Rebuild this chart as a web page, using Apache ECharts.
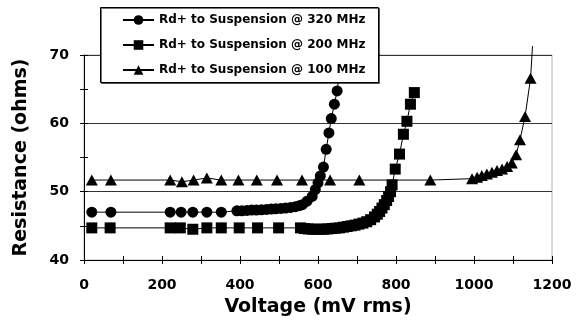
<!DOCTYPE html>
<html>
<head>
<meta charset="utf-8">
<script src="https://cdn.jsdelivr.net/npm/echarts@6/dist/echarts.min.js"></script>
<style>
html,body{margin:0;padding:0;background:#fff;}
#chart{width:582px;height:333px;}
</style>
</head>
<body>
<div id="chart"></div>
<script>
// ---- data ----
var seriesNames = ['Rd+ to Suspension @ 320 MHz', 'Rd+ to Suspension @ 200 MHz', 'Rd+ to Suspension @ 100 MHz'];

var mhz320V = [20,69,221,249,279,315,352,392,405,418,430,442,455,468,480,492,505,517,530,542,552,560,572,585,593,600,606,614,621,628,634,642,649,655];
var mhz320R = [47.0,47.0,47.0,47.0,47.0,47.0,47.0,47.2,47.2,47.25,47.3,47.3,47.35,47.4,47.45,47.5,47.55,47.6,47.7,47.8,47.95,48.1,48.6,49.3,50.3,51.3,52.3,53.6,56.2,58.6,60.7,62.8,64.75,67.5];

var mhz200V = [20,67,221,247,279,315,352,398,445,499,555,565,575,585,595,605,615,625,635,645,655,665,675,685,695,705,715,725,735,745,752,758,764,770,776,781,786,790,798,809,819,828,837,847];
var mhz200R = [44.7,44.7,44.7,44.7,44.5,44.7,44.7,44.7,44.7,44.7,44.7,44.6,44.55,44.5,44.5,44.5,44.5,44.55,44.6,44.65,44.7,44.8,44.9,45.0,45.1,45.25,45.4,45.6,45.9,46.3,46.7,47.1,47.6,48.1,48.7,49.3,50.0,51.0,53.3,55.5,58.4,60.3,62.8,64.5];

var mhz100V = [20,69,221,251,281,315,352,396,443,495,559,631,706,888,995,1008,1020,1033,1046,1059,1072,1085,1097,1108,1118,1131,1145,1150];
var mhz100R = [51.7,51.7,51.7,51.45,51.7,52.0,51.7,51.7,51.7,51.7,51.7,51.7,51.7,51.7,51.9,52.1,52.35,52.6,52.85,53.1,53.3,53.7,54.2,55.4,57.6,61.0,66.6,71.3];

var xTicks = [0,200,400,600,800,1000,1200];
var yTicks = [40,50,60,70];

function pairs(xs, ys){ return xs.map(function(x,i){ return [x, ys[i]]; }); }

var FONT = '"DejaVu Sans", "Liberation Sans", Arial, sans-serif';
var chart = echarts.init(document.getElementById('chart'), null, {renderer:'canvas'});

var d100 = pairs(mhz100V, mhz100R).map(function(p, i, arr){
  // the last reading lies above the plot top: only its line segment shows
  return i === arr.length - 1 ? {value:p, symbolSize:0} : p;
});

function lineSeries(name, data, symbol, size, extra){
  var s = {
    name: name, type: 'line', data: data, z: 2,
    symbol: symbol, symbolSize: size,
    showAllSymbol: true,
    lineStyle: {color:'#000', width:1},
    itemStyle: {color:'#000'},
    emphasis: {disabled:true},
    animation: false,
    xAxisIndex: 0, yAxisIndex: 0
  };
  if (extra) for (var k in extra) s[k] = extra[k];
  return s;
}

var option = {
  animation: false,
  grid: {left:84, right:30, top:55, bottom:73, show:true, borderColor:'#b4b4b4', borderWidth:1, backgroundColor:'transparent'},
  graphic: {
    elements: [{
      type:'rect', z:50, zlevel:0, silent:true,
      shape:{x:100.5, y:7.5, width:278, height:75},
      style:{fill:'#fff', stroke:'#000', lineWidth:1, shadowColor:'rgba(0,0,0,0.55)', shadowOffsetX:1, shadowOffsetY:1, shadowBlur:0}
    }]
  },
  legend: {
    orient:'vertical', left:122, top:13, z:60,
    padding:0, itemGap:11, itemWidth:31, itemHeight:12,
    textStyle:{fontFamily:FONT, fontWeight:'bold', fontSize:12, lineHeight:14, color:'#000'},
    data: seriesNames
  },
  xAxis: [
    {type:'value', min:0, max:1200, interval:100, position:'bottom',
     axisLine:{lineStyle:{color:'#000', width:1}},
     axisTick:{show:true, inside:false, length:4, lineStyle:{color:'#000'}},
     axisLabel:{margin:18, color:'#000', fontFamily:FONT, fontWeight:'bold', fontSize:14,
       formatter:function(v){ return xTicks.indexOf(v) >= 0 ? String(v) : ''; }},
     splitLine:{show:false},
     name:'Voltage (mV rms)', nameLocation:'middle', nameGap:38,
     nameTextStyle:{color:'#000', fontFamily:FONT, fontWeight:'bold', fontSize:19}},
    {type:'value', min:0, max:1200, interval:100, position:'bottom',
     axisLine:{show:false}, axisTick:{show:true, inside:true, length:4, lineStyle:{color:'#000'}},
     axisLabel:{show:false}, splitLine:{show:false}}
  ],
  yAxis: [
    {type:'value', min:40, max:70, interval:5, position:'left',
     axisLine:{show:true, lineStyle:{color:'#000', width:1}},
     axisTick:{show:true, inside:false, length:4, lineStyle:{color:'#000'}},
     axisLabel:{margin:15, color:'#000', fontFamily:FONT, fontWeight:'bold', fontSize:14,
       formatter:function(v){ return yTicks.indexOf(v) >= 0 ? String(v) : ''; }},
     splitLine:{show:true, lineStyle:{color:['#333','rgba(0,0,0,0)'], width:1}},
     name:'Resistance (ohms)', nameLocation:'middle', nameGap:53, nameRotate:90,
     nameTextStyle:{color:'#000', fontFamily:FONT, fontWeight:'bold', fontSize:19}},
    {type:'value', min:40, max:70, interval:5, position:'left',
     axisLine:{show:false}, axisTick:{show:true, inside:true, length:4, lineStyle:{color:'#000'}},
     axisLabel:{show:false}, splitLine:{show:false}}
  ],
  series: [
    lineSeries(seriesNames[0], pairs(mhz320V, mhz320R), 'circle', 11),
    lineSeries(seriesNames[1], pairs(mhz200V, mhz200R), 'rect', 11),
    lineSeries(seriesNames[2], d100, 'triangle', [12,11], {clip:false})
  ]
};
chart.setOption(option);
</script>
</body>
</html>
